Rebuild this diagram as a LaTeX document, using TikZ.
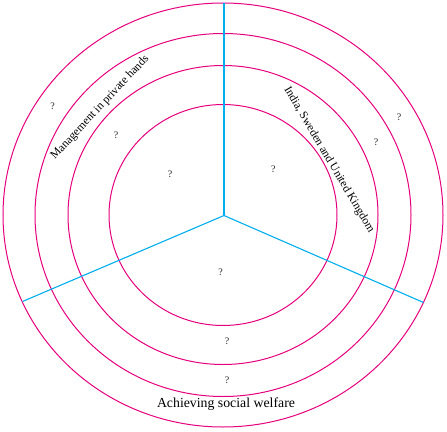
\documentclass[tikz,border=0pt]{standalone}
\usepackage{fontspec}
\setmainfont{Liberation Serif}
\definecolor{ringc}{RGB}{230,0,126}
\definecolor{spokec}{RGB}{0,174,239}
\begin{document}
\begin{tikzpicture}[x=1pt,y=-1pt,
  ring/.style={draw=ringc, line width=1pt},
  spoke/.style={draw=spokec, line width=1.1pt},
  qm/.style={font=\fontsize{10}{12}\selectfont, inner sep=0pt, text=black!85},
  lbl/.style={font=\fontsize{11.6}{14}\selectfont, inner sep=0pt},
  biglbl/.style={font=\fontsize{13.8}{16}\selectfont, inner sep=0pt}]
\useasboundingbox (0,0) rectangle (447,431);
\coordinate (c) at (223,215);
\draw[ring] (c) ellipse [x radius=220pt, y radius=212pt];
\draw[ring] (c) ellipse [x radius=188pt, y radius=181.5pt];
\draw[ring] (c) ellipse [x radius=155pt, y radius=149.5pt];
\draw[ring] (c) ellipse [x radius=114pt, y radius=110.5pt];
\coordinate (hub) at (224,215.5);
\coordinate (top) at (224,3);
\coordinate (left) at (22.5,301.5);
\coordinate (right) at (423.5,302.5);
\draw[spoke] (hub) -- (top);
\draw[spoke] (hub) -- (left);
\draw[spoke] (hub) -- (right);
\node[qm] (q1) at (52.7,106) {?};
\node[qm] (q2) at (116,135) {?};
\node[qm] (q3) at (170,174.3) {?};
\node[qm] (q4) at (273.3,169.3) {?};
\node[qm] (q5) at (376,142.7) {?};
\node[qm] (q6) at (399,117.3) {?};
\node[qm] (q7) at (220.7,272.7) {?};
\node[qm] (q8) at (227,341.7) {?};
\node[qm] (q9) at (227,380) {?};
\node[lbl, rotate=46.8] (mgmt) at (100,107.5) {Management in private hands};
\node[lbl, rotate=-59.4] (india) at (329,160) {India, Sweden and United Kingdom};
\node[biglbl] (asw) at (226,404.5) {Achieving social welfare};
\end{tikzpicture}
\end{document}
